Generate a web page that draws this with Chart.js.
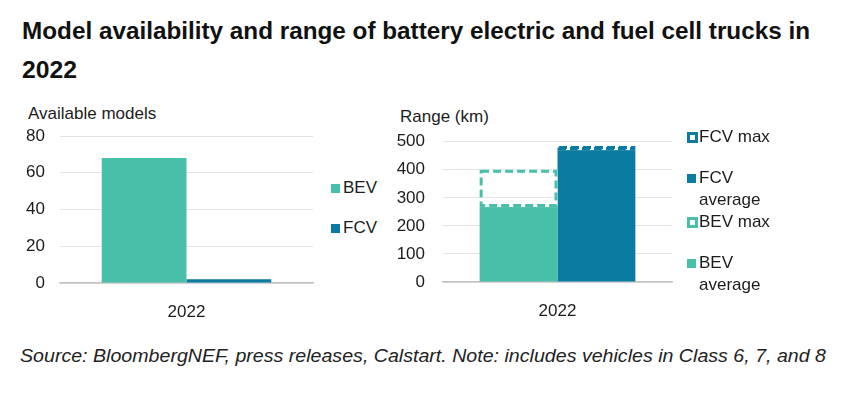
<!DOCTYPE html>
<html>
<head>
<meta charset="utf-8">
<title>Model availability and range of battery electric and fuel cell trucks in 2022</title>
<script src="https://cdn.jsdelivr.net/npm/chart.js@4.4.0/dist/chart.umd.min.js"></script>
<style>
  body { margin: 0; background: #fff; }
  #page { position: relative; width: 849px; height: 397px; overflow: hidden;
          font-family: "Liberation Sans", Arial, sans-serif; color: #1c1c1c; }
  .abs { position: absolute; white-space: nowrap; }
  .fit { transform-origin: 0 0; }
  #title1, #title2 { left: 22px; font-weight: bold; font-size: 24px; line-height: 30px; color: #111; }
  #title1 { top: 16px; }
  #title2 { top: 55px; }
  #source { left: 20px; top: 345px; font-style: italic; font-size: 18px; line-height: 22px; color: #222; }
  .axisTitle { font-size: 17px; line-height: 20px; }
  .legend { font-size: 17px; line-height: 22px; }
  .legend .row { position: absolute; white-space: nowrap; }
  .sw { position: absolute; left: 0; width: 9px; height: 9px; }
  .swDash { position: absolute; left: 0; width: 11px; height: 11px; box-sizing: border-box;
            border-width: 3px; border-style: dashed; }
  .legend .txt { position: absolute; left: 12px; top: 0; }
  #leftBox { left: 0; top: 100px; width: 330px; height: 220px; }
  #rightBox { left: 390px; top: 100px; width: 300px; height: 220px; }
</style>
</head>
<body>
<div id="page">
  <div id="title1" class="abs fit" data-width="788">Model availability and range of battery electric and fuel cell trucks in</div>
  <div id="title2" class="abs fit" data-width="55">2022</div>

  <div class="abs axisTitle" style="left:28px; top:104px;">Available models</div>
  <div class="abs axisTitle" style="left:400px; top:107px;">Range (km)</div>

  <div id="leftBox" class="abs"><canvas id="modelsChart"></canvas></div>
  <div id="rightBox" class="abs"><canvas id="rangeChart"></canvas></div>

  <div class="abs legend" id="leftLegend" style="left:331px; top:0;">
    <div class="row" style="top:177px;"><span class="sw" style="top:7px; background:#48bfa8;"></span><span class="txt">BEV</span></div>
    <div class="row" style="top:217px;"><span class="sw" style="top:7px; background:#0b7ba1;"></span><span class="txt">FCV</span></div>
  </div>

  <div class="abs legend" id="rightLegend" style="left:687px; top:0;">
    <div class="row" style="top:126px;"><span class="swDash" style="top:6px; border-color:#0b7ba1;"></span><span class="txt">FCV max</span></div>
    <div class="row" style="top:167px;"><span class="sw" style="top:7px; background:#0b7ba1;"></span><span class="txt">FCV<br>average</span></div>
    <div class="row" style="top:211px;"><span class="swDash" style="top:6px; border-color:#48bfa8;"></span><span class="txt">BEV max</span></div>
    <div class="row" style="top:252px;"><span class="sw" style="top:7px; background:#48bfa8;"></span><span class="txt">BEV<br>average</span></div>
  </div>

  <div id="source" class="abs fit" data-width="806">Source: BloombergNEF, press releases, Calstart. Note: includes vehicles in Class 6, 7, and 8</div>
</div>

<script>
// data
const years = ['2022'];
const bevModels = [68];
const fcvModels = [2];
const bevAverageRange = [267];
const bevMaxRange = [400];
const fcvAverageRange = [470];
const fcvMaxRange = [485];
const modelTicks = [0, 20, 40, 60, 80];
const rangeTicks = [0, 100, 200, 300, 400, 500];

const BEV_COLOR = '#48bfa8';
const FCV_COLOR = '#0b7ba1';
const TEXT_COLOR = '#1c1c1c';
const GRID_COLOR = '#e3e3e3';
const AXIS_COLOR = '#c4c4c4';
const AXIS_FONT = { family: '"Liberation Sans", Arial, sans-serif', size: 17 };

// the original uses a condensed face; squeeze the text to the same width
document.querySelectorAll('.fit').forEach(el => {
    const target = parseFloat(el.dataset.width);
    const w = el.getBoundingClientRect().width;
    el.style.transform = `scaleX(${target / w})`;
});

// draws the "max" segments as dashed outlines (white underlay + coloured dashes)
const dashedMaxPlugin = {
    id: 'dashedMax',
    afterDatasetsDraw(chart) {
        const ctx = chart.ctx;
        chart.data.datasets.forEach((ds, i) => {
            if (!ds.outlineColor) return;
            const meta = chart.getDatasetMeta(i);
            meta.data.forEach(bar => {
                const p = bar.getProps(['x', 'y', 'base', 'width'], true);
                const lw = 3;
                const left = p.x - p.width / 2 + lw / 2;
                const w = p.width - lw;
                const top = p.y + lw / 2;
                const h = (p.base - lw / 2) - top;
                ctx.save();
                ctx.lineWidth = lw;
                ctx.strokeStyle = '#ffffff';
                ctx.strokeRect(left, top, w, h);
                ctx.setLineDash([8, 4]);
                ctx.strokeStyle = ds.outlineColor;
                ctx.strokeRect(left, top, w, h);
                ctx.restore();
            });
        });
    }
};

function valueAxis(max, ticks, axisWidth, pad) {
    return {
        min: 0,
        max: max,
        stacked: true,
        afterFit: (scale) => { scale.width = axisWidth; },
        afterBuildTicks: (scale) => { scale.ticks = ticks.map(v => ({ value: v })); },
        grid: { color: GRID_COLOR, drawTicks: false, lineWidth: 1 },
        border: { display: false },
        ticks: { color: TEXT_COLOR, font: AXIS_FONT, padding: pad }
    };
}

function categoryAxis(height) {
    return {
        afterFit: (scale) => { scale.height = height; },
        grid: { display: false },
        border: { display: true, color: AXIS_COLOR, width: 1.5 },
        ticks: { color: TEXT_COLOR, font: AXIS_FONT, padding: 11 }
    };
}

const commonOptions = {
    responsive: true,
    maintainAspectRatio: false,
    animation: false,
    events: [],
    plugins: { legend: { display: false }, tooltip: { enabled: false } }
};

new Chart(document.getElementById('modelsChart'), {
    type: 'bar',
    data: {
        labels: years,
        datasets: [
            { label: 'BEV', data: bevModels, backgroundColor: BEV_COLOR,
              categoryPercentage: 0.67, barPercentage: 1 },
            { label: 'FCV', data: fcvModels, backgroundColor: FCV_COLOR,
              categoryPercentage: 0.67, barPercentage: 1 }
        ]
    },
    options: {
        ...commonOptions,
        layout: { padding: { top: 36, right: 17, bottom: 0, left: 0 } },
        scales: {
            x: categoryAxis(37),
            y: { ...valueAxis(80, modelTicks, 60, 15), stacked: false }
        }
    }
});

new Chart(document.getElementById('rangeChart'), {
    type: 'bar',
    data: {
        labels: years,
        datasets: [
            { label: 'BEV average', data: bevAverageRange, stack: 'bev',
              backgroundColor: BEV_COLOR, categoryPercentage: 0.68, barPercentage: 1 },
            { label: 'BEV max', data: bevMaxRange.map((v, i) => v - bevAverageRange[i]), stack: 'bev',
              backgroundColor: 'rgba(0,0,0,0)', outlineColor: BEV_COLOR,
              categoryPercentage: 0.68, barPercentage: 1 },
            { label: 'FCV average', data: fcvAverageRange, stack: 'fcv',
              backgroundColor: FCV_COLOR, categoryPercentage: 0.68, barPercentage: 1 },
            { label: 'FCV max', data: fcvMaxRange.map((v, i) => v - fcvAverageRange[i]), stack: 'fcv',
              backgroundColor: 'rgba(0,0,0,0)', outlineColor: FCV_COLOR,
              categoryPercentage: 0.68, barPercentage: 1 }
        ]
    },
    options: {
        ...commonOptions,
        layout: { padding: { top: 41.7, right: 18, bottom: 0, left: 0 } },
        scales: {
            x: categoryAxis(38),
            y: valueAxis(500, rangeTicks, 53, 18)
        }
    },
    plugins: [dashedMaxPlugin]
});
</script>
</body>
</html>
